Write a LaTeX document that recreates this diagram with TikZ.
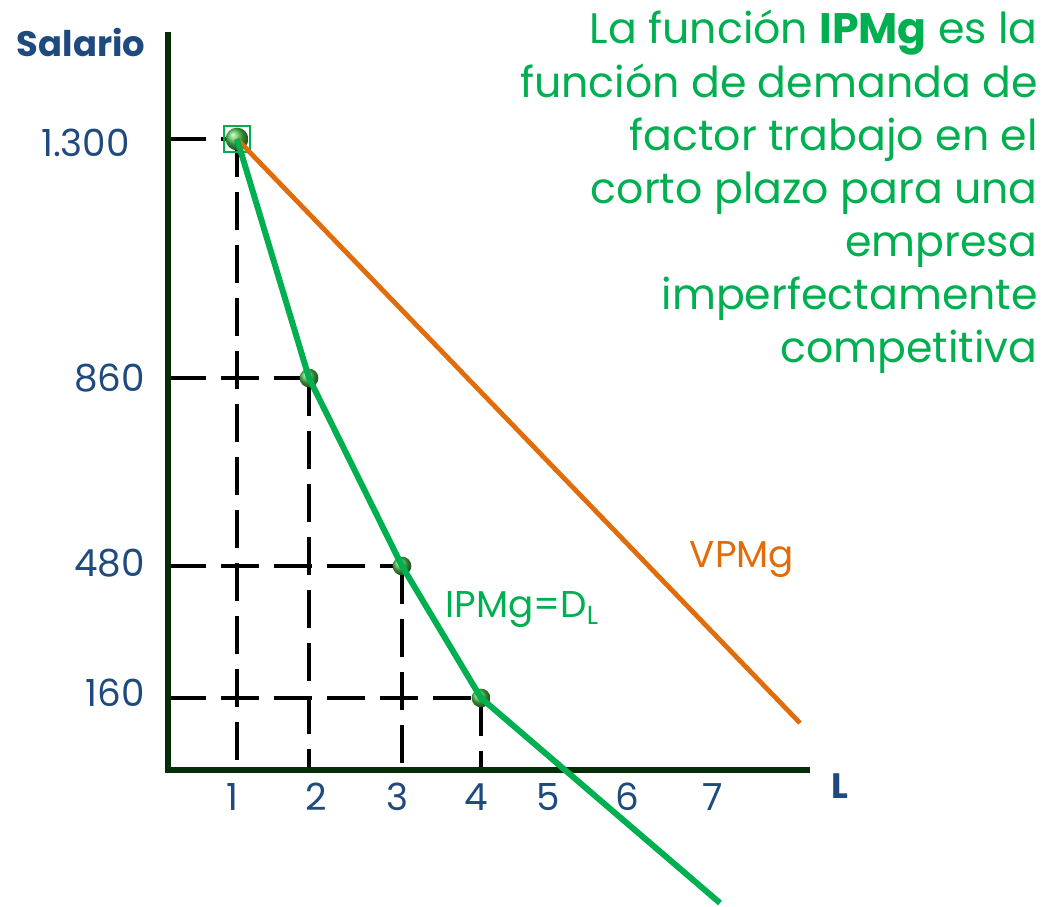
\documentclass[tikz,border=0pt]{standalone}
\usepackage{fontspec}
\setmainfont{Poppins}
\definecolor{navy}{HTML}{1F4A7D}
\definecolor{ipgreen}{HTML}{00B050}
\definecolor{vporange}{HTML}{E36C0A}
\definecolor{axisgreen}{HTML}{062E06}
\definecolor{ballgreen}{HTML}{4CC24C}
\tikzset{
  axisline/.style={draw=axisgreen,line width=4.5pt},
  dashline/.style={draw=black,line width=3.6pt,dash pattern=on 28.5pt off 11.25pt},
  ipmgline/.style={draw=ipgreen,line width=4.5pt},
  vpmgline/.style={draw=vporange,line width=3.6pt},
  balldot/.style={circle,inner sep=0pt,minimum size=14pt,ball color=ballgreen},
  ticklbl/.style={text=navy,font=\fontsize{28}{33}\selectfont,inner sep=0pt},
  boldlbl/.style={text=navy,font=\fontsize{26.5}{32}\selectfont\bfseries,inner sep=0pt},
  titleline/.style={text=ipgreen,font=\fontsize{32}{39}\selectfont,inner sep=0pt,anchor=base east},
}
\begin{document}
\begin{tikzpicture}[x=0.75pt,y=-0.75pt]
\useasboundingbox (0,0) rectangle (1055,906);
% axes
\coordinate (O) at (168,770);
\coordinate (ytop) at (168,32);
\coordinate (xend) at (810,770);
% points
\coordinate (c1) at (237,139);
\coordinate (c2) at (309,378);
\coordinate (c3) at (402,566);
\coordinate (c4) at (481,698);
\coordinate (y1) at (168,139);
\coordinate (y2) at (168,378);
\coordinate (y3) at (168,566);
\coordinate (y4) at (168,698);
\coordinate (x1) at (237,770);
\coordinate (x2) at (309,770);
\coordinate (x3) at (402,770);
\coordinate (x4) at (481,770);
\coordinate (gend) at (720,903);
\coordinate (oend) at (800,723);
% dashed guides
\draw[dashline] (y1) -- (c1);
\draw[dashline] (y2) -- (c2);
\draw[dashline] (y3) -- (c3);
\draw[dashline] (y4) -- (c4);
\draw[dashline] (c1) -- (x1);
\draw[dashline] (c2) -- (x2);
\draw[dashline] (c3) -- (x3);
\draw[dashline] (c4) -- (x4);
% axes
\draw[axisline] (ytop) -- (O) -- (xend);
% balls
\node[balldot,minimum size=17pt] (p1) at (c1) {};
\node[draw=ipgreen,line width=1.2pt,minimum size=19.5pt,inner sep=0pt] (sq) at (c1) {};
\node[balldot] (p2) at (c2) {};
\node[balldot] (p3) at (c3) {};
\node[balldot] (p4) at (c4) {};
% curves
\draw[vpmgline] (p1.center) -- (oend);
\draw[ipmgline,line join=round] (p1.center) -- (p2.center) -- (p3.center) -- (p4.center) -- (gend);
% labels
\node[boldlbl] (sal) at (81,42) {Salario};
\node[boldlbl] (lab) at (840,786) {L};
\node[ticklbl,anchor=east] (v1) at (130,143) {1.300};
\node[ticklbl,anchor=east] (v2) at (145,378) {860};
\node[ticklbl,anchor=east] (v3) at (145,563) {480};
\node[ticklbl,anchor=east] (v4) at (145,693) {160};
\node[ticklbl] (t1) at (232,797) {1};
\node[ticklbl] (t2) at (316,797) {2};
\node[ticklbl] (t3) at (397,797) {3};
\node[ticklbl] (t4) at (476,797) {4};
\node[ticklbl] (t5) at (548,797) {5};
\node[ticklbl] (t6) at (627,797) {6};
\node[ticklbl] (t7) at (713,797) {7};
\node[ticklbl,text=vporange] (vp) at (742,560) {VPMg};
\node[ticklbl,text=ipgreen,anchor=west] (ip) at (445,610) {IPMg=D\textsubscript{L}};
% title
\node[titleline] (l1) at (1038,44) {La función \textbf{IPMg} es la};
\node[titleline] (l2) at (1038,97) {función de demanda de};
\node[titleline] (l3) at (1038,150) {factor trabajo en el};
\node[titleline] (l4) at (1038,203) {corto plazo para una};
\node[titleline] (l5) at (1038,256) {empresa};
\node[titleline] (l6) at (1038,309) {imperfectamente};
\node[titleline] (l7) at (1038,362) {competitiva};
\end{tikzpicture}
\end{document}
